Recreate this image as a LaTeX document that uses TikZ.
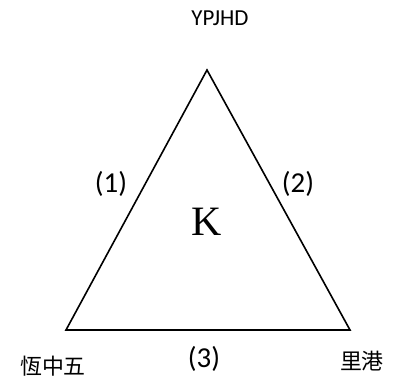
\documentclass[tikz,border=0pt]{standalone}
\usepackage{fontspec}
\setsansfont{Carlito}
\newfontfamily\cjk{Noto Sans CJK TC}
\newfontfamily\kfont{Liberation Serif}
\usepackage{tikz}
\usetikzlibrary{positioning}

\tikzset{
    lbl/.style={font=\sffamily\fontsize{23}{23}\selectfont, inner sep=0pt},
    sidelbl/.style={font=\sffamily\fontsize{29}{29}\selectfont, inner sep=0pt},
    cjklbl/.style={font=\cjk\fontsize{22}{22}\selectfont, inner sep=0pt},
    side/.style={line width=1.6bp, line join=miter}
}

\begin{document}
\begin{tikzpicture}[x=1bp, y=1bp]
        \useasboundingbox (0,0) rectangle (403,383);

        % --- corners of the triangle ---
        \coordinate (apex) at (207,313);
        \coordinate (left) at (66,53);
        \coordinate (right) at (350,53);

        % Triangle
        \draw[side] (apex) -- (right) -- (left) -- cycle;

        % Corner labels
        \node[lbl] (top) at (220,365) {YPJHD};
        \node[cjklbl] (hcw) at (53,17) {恆中五};
        \node[cjklbl] (lk) at (362,22) {里港};

        % Side labels
        \node[sidelbl] (s1) at (111,199) {(1)};
        \node[sidelbl] (s2) at (298,199) {(2)};
        \node[sidelbl] (s3) at (204,24) {(3)};

        % Centre
        \node[font=\kfont\fontsize{42}{42}\selectfont, inner sep=0pt] (k) at (207,161) {K};

\end{tikzpicture}
\end{document}
